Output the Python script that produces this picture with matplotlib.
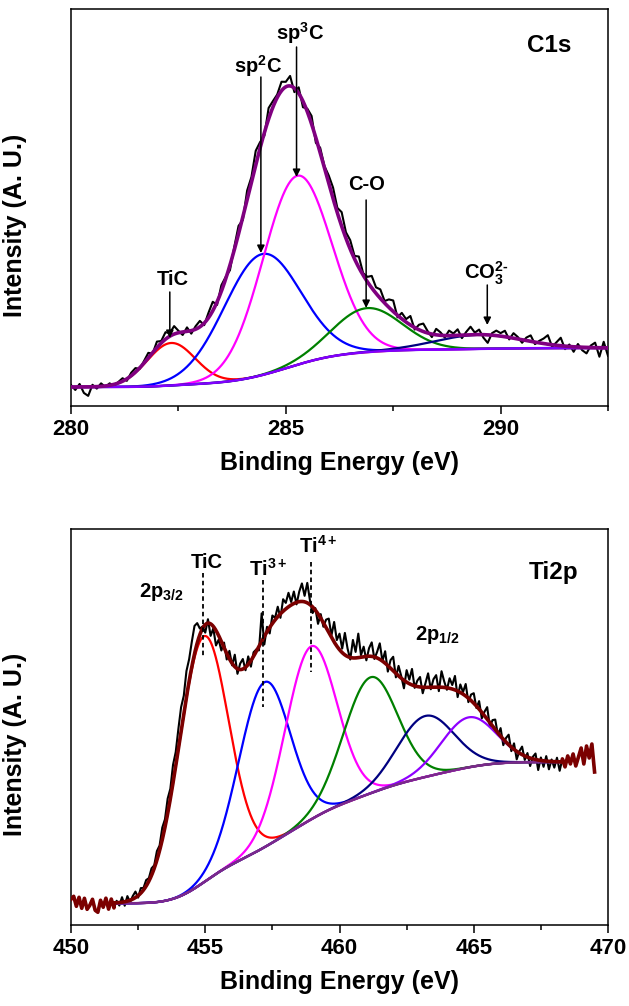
import numpy as np
import matplotlib
matplotlib.use('Agg')
import matplotlib.pyplot as plt
from matplotlib.ticker import MultipleLocator

plt.rcParams['font.family'] = ['Liberation Sans', 'DejaVu Sans']
plt.rcParams['font.weight'] = 'bold'
plt.rcParams['mathtext.fontset'] = 'custom'
plt.rcParams['mathtext.rm'] = 'Liberation Sans:bold'
plt.rcParams['mathtext.it'] = 'Liberation Sans:bold'
plt.rcParams['mathtext.bf'] = 'Liberation Sans:bold'
plt.rcParams['mathtext.sf'] = 'Liberation Sans:bold'
plt.rcParams['mathtext.default'] = 'rm'

# ---------------- C1s data ----------------
c1s_peak_names = ['TiC', 'sp$^2$C', 'sp$^3$C', 'C-O', 'CO$_3^{2\u2010}$']
c1s_centers = [282.33, 284.44, 285.26, 286.89, 289.50]
c1s_heights = [42.5, 121.0, 189.0, 44.0, 14.0]
c1s_sigmas = [0.56, 0.89, 0.80, 0.81, 1.0]
c1s_colors = ['#ff0000', '#0000ff', '#ff00ff', '#008000', '#000080']
c1s_bg_low, c1s_bg_high = 19.0, 58.0
c1s_fit_range = [280.0, 292.5]
c1s_data_start, c1s_data_step = 280.0, 0.1
c1s_residuals = [
    2, -3, 3, -6, -9, 2, -2, 3, -1, 2,
    -2, 1, 3, -2, 3, 4, -1, 2, 5, -1,
    6, 2, 7, 3, 8, 2, -3, 4, -3, 3,
    6, -2, 5, 9, -3, 6, 2, -5, 3, 8,
    -3, 9, 5, 14, 6, -3, 11, 6, 3, 9,
    5, 10, -4, 6, -6, 3, 8, -5, 5, 2,
    8, 11, 5, 14, 6, 9, 3, 11, 2, 5,
    12, 6, 9, 2, 8, 11, -2, 6, 3, 9,
    -2, 5, 8, 2, -3, 6, 3, -2, 5, 2,
    6, -3, 3, 8, 2, 5, -3, -8, 2, 5,
    3, 6, -2, 5, 2, -3, 3, 6, -2, 2,
    5, 9, -2, 3, 8, -3, 2, -5, 3, -3,
    -6, 2, 5, -9, 6, -8,
]
c1s_xticks = [280, 285, 290]

# ---------------- Ti2p data ----------------
ti_centers = [454.93, 457.20, 458.93, 461.15, 463.20, 464.81]
ti_heights = [246.0, 165.0, 173.0, 116.0, 61.0, 50.0]
ti_sigmas = [0.92, 0.95, 0.96, 1.0, 1.05, 1.02]
ti_colors = ['#ff0000', '#0000ff', '#ff00ff', '#008000', '#000080', '#8f00ff']
ti_bg_low, ti_bg_high = 21.7, 163.0
ti_fit_range = [451.6, 468.3]
ti_data_start, ti_data_step = 450.0, 0.1
ti_residuals = [
    4, 7, -3, 6, -5, 5, -6, -2, 4, -7,
    -9, 3, -4, 5, -6, 4, -5, 2, -3, 5,
    -4, 5, -2, 3, 6, -2, 5, 2, 6, 3,
    7, 3, 9, 5, 12, 8, 15, 10, 18, 14,
    20, 24, 18, 26, 22, 25, 28, 20, 6, 2,
    -8, 4, -12, -2, -15, -4, -9, 5, -6, 8,
    -2, 12, -5, 6, 10, -3, 8, -6, 4, 2,
    -4, 28, -8, 5, -6, 8, 2, 10, -4, 12,
    6, 14, 3, 12, -2, 10, 18, 6, 20, 4,
    -6, 2, -10, 4, -4, 8, 14, 2, 20, 6,
    16, 4, 22, 8, -2, 18, 6, 24, 2, 10,
    -4, 8, 14, -2, 6, 16, 0, 12, -6, 8,
    14, -4, 10, 2, -8, 12, 4, 16, -2, 6,
    10, -6, 4, 14, -2, 8, 12, -4, 16, 6,
    -2, 10, 4, 14, -6, 8, 2, 12, -4, 6,
    10, -2, 8, -6, 4, 12, -4, 6, 10, -2,
    8, -6, 4, 10, -4, 6, -8, 2, 8, -4,
    4, -8, 2, 6, -10, 3, -6, 5, -8, 2,
    -6, 4, -9, 3, -5, 6, -2, 8, -4, 5,
    14, -2, 16, 4, 18, -10,
]
ti_xticks = [450, 455, 460, 465, 470]


def components(E, centers, heights, sigmas):
    return [h * np.exp(-(E - c) ** 2 / (2 * s ** 2))
            for c, h, s in zip(centers, heights, sigmas)]


def shirley(E, centers, heights, sigmas, lo, hi, rng):
    fine = np.linspace(rng[0], rng[1], 3000)
    f = np.sum(components(fine, centers, heights, sigmas), axis=0)
    cum = np.concatenate([[0.0], np.cumsum((f[1:] + f[:-1]) / 2 * np.diff(fine))])
    frac = np.interp(E, fine, cum / cum[-1])
    return lo + (hi - lo) * frac


fig = plt.figure(figsize=(6.29, 10.06), dpi=100)
ax1 = fig.add_axes([71 / 629, 1 - 406 / 1006, 537 / 629, 397 / 1006])
ax2 = fig.add_axes([71 / 629, 1 - 925 / 1006, 537 / 629, 396 / 1006])

# ---------- top panel ----------
Ef = np.linspace(c1s_fit_range[0], c1s_fit_range[1], 1200)
bg = shirley(Ef, c1s_centers, c1s_heights, c1s_sigmas, c1s_bg_low, c1s_bg_high, c1s_fit_range)
comps = components(Ef, c1s_centers, c1s_heights, c1s_sigmas)
env = bg + np.sum(comps, axis=0)

Ed = c1s_data_start + c1s_data_step * np.arange(len(c1s_residuals))
bgd = shirley(Ed, c1s_centers, c1s_heights, c1s_sigmas, c1s_bg_low, c1s_bg_high, c1s_fit_range)
data = bgd + np.sum(components(Ed, c1s_centers, c1s_heights, c1s_sigmas), axis=0) + np.array(c1s_residuals)

ax1.plot(Ed, data, color='black', lw=1.5, zorder=2)
for comp, col in zip(comps, c1s_colors):
    ax1.plot(Ef, bg + comp, color=col, lw=1.6, zorder=3)
ax1.plot(Ef, bg, color='#8000ff', lw=1.8, zorder=4)
ax1.plot(Ef, env, color='#800080', lw=2.6, zorder=5)

ax1.set_xlim(280, 292.5)
ax1.set_ylim(0, 397)

arrow_kw = dict(arrowstyle='-|>', color='black', lw=1.1, mutation_scale=11, shrinkA=0, shrinkB=0)
c1s_arrows = [(282.30, 114, 68), (284.42, 329, 153), (285.25, 359, 229), (286.87, 206, 98), (289.69, 121, 81)]
c1s_text_pos = [(282.37, 126), (284.36, 340), (285.34, 373), (286.89, 222), (289.66, 133)]
for (x, y0, y1), (tx, ty), name in zip(c1s_arrows, c1s_text_pos, c1s_peak_names):
    ax1.annotate('', xy=(x, y1), xytext=(x, y0), arrowprops=arrow_kw, zorder=6)
    ax1.text(tx, ty, name, ha='center', va='center', fontsize=14.5, fontweight='bold')
ax1.text(291.13, 361, 'C1s', ha='center', va='center', fontsize=17.5, fontweight='bold')

# ---------- bottom panel ----------
Ef2 = np.linspace(ti_fit_range[0], ti_fit_range[1], 1500)
bg2 = shirley(Ef2, ti_centers, ti_heights, ti_sigmas, ti_bg_low, ti_bg_high, ti_fit_range)
comps2 = components(Ef2, ti_centers, ti_heights, ti_sigmas)
env2 = bg2 + np.sum(comps2, axis=0)

Ed2 = ti_data_start + ti_data_step * np.arange(len(ti_residuals))
bgd2 = shirley(Ed2, ti_centers, ti_heights, ti_sigmas, ti_bg_low, ti_bg_high, ti_fit_range)
data2 = bgd2 + np.sum(components(Ed2, ti_centers, ti_heights, ti_sigmas), axis=0) + np.array(ti_residuals)

ax2.plot(Ed2, data2, color='black', lw=1.5, zorder=2)
for comp, col in zip(comps2, ti_colors):
    ax2.plot(Ef2, bg2 + comp, color=col, lw=1.6, zorder=3)
ax2.plot(Ef2, bg2, color='#7a2a8a', lw=1.8, zorder=4)
left = Ed2 <= ti_fit_range[0] + 1e-9
right = Ed2 >= ti_fit_range[1] - 1e-9
brown = '#7b0000'
ax2.plot(np.append(Ed2[left], Ef2[0]), np.append(data2[left], env2[0]), color=brown, lw=2.6, zorder=5)
ax2.plot(Ef2, env2, color=brown, lw=2.6, zorder=5)
ax2.plot(np.insert(Ed2[right], 0, Ef2[-1]), np.insert(data2[right], 0, env2[-1]), color=brown, lw=2.6, zorder=5)

ax2.set_xlim(450, 470)
ax2.set_ylim(0, 396)

ti_dash = [(454.93, 352, 267), (457.16, 345, 218), (458.93, 363, 253)]
for x, y0, y1 in ti_dash:
    ax2.plot([x, x], [y0, y1], color='black', lw=1.3, ls=(0, (2.5, 1.8)), zorder=6)
ax2.text(455.05, 363, 'TiC', ha='center', va='center', fontsize=14.5, fontweight='bold')
ax2.text(457.35, 356, 'Ti$^{3+}$', ha='center', va='center', fontsize=14.5, fontweight='bold')
ax2.text(459.2, 379, 'Ti$^{4+}$', ha='center', va='center', fontsize=14.5, fontweight='bold')
ax2.text(453.37, 333, '2p$_{3/2}$', ha='center', va='center', fontsize=14.5, fontweight='bold')
ax2.text(463.63, 290, '2p$_{1/2}$', ha='center', va='center', fontsize=14.5, fontweight='bold')
ax2.text(467.96, 353, 'Ti2p', ha='center', va='center', fontsize=17.5, fontweight='bold')

for ax, ticks in ((ax1, c1s_xticks), (ax2, ti_xticks)):
    ax.set_xticks(ticks)
    ax.set_xticklabels([str(t) for t in ticks])
    ax.xaxis.set_minor_locator(MultipleLocator(2.5))
    ax.set_yticks([])
    ax.tick_params(axis='x', which='major', direction='out', length=5.5, width=1.1,
                   labelsize=16, pad=4)
    ax.tick_params(axis='x', which='minor', direction='out', length=3.8, width=1.1)
    for sp in ax.spines.values():
        sp.set_linewidth(1.1)
    ax.set_xlabel('Binding Energy (eV)', fontsize=18, fontweight='bold', labelpad=8)
    ax.set_ylabel('Intensity (A. U.)', fontsize=18, fontweight='bold', labelpad=14)
    ax.yaxis.set_label_coords(-0.082, 0.455)
    for lab in ax.get_xticklabels():
        lab.set_fontweight('bold')

fig.savefig('out.png', dpi=100)
